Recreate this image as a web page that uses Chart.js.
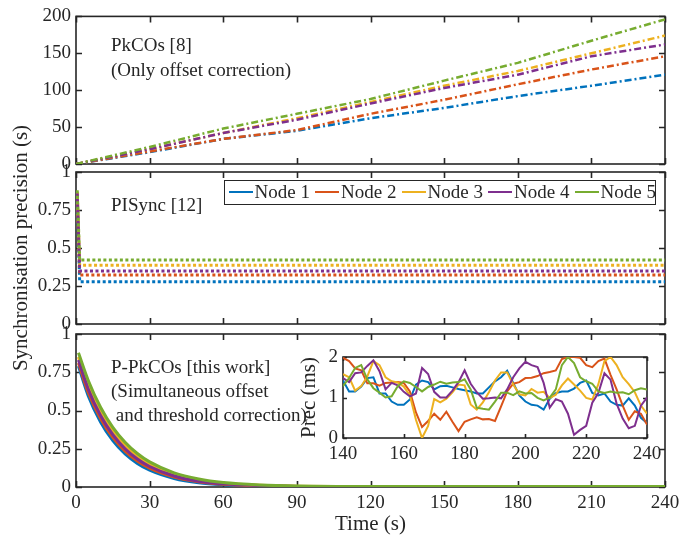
<!DOCTYPE html>
<html>
<head>
<meta charset="utf-8">
<script src="https://cdn.jsdelivr.net/npm/chart.js@4.4.1/dist/chart.umd.min.js"></script>
<style>
    html, body { margin: 0; padding: 0; background: #fff; }
    #wrap { position: relative; width: 694px; height: 538px; overflow: hidden;
            font-family: 'Liberation Serif', 'Times New Roman', serif; color: #262626; }
    #wrap canvas { position: absolute; left: 0; top: 0; }
    .note { position: absolute; font-size: 19px; line-height: 24px; white-space: pre; }
    #legend { position: absolute; left: 224px; top: 180px; width: 432px; height: 25px;
              box-sizing: border-box; border: 1.5px solid #262626; background: #fff; }
    .item { position: absolute; top: 0; height: 22px; font-size: 19px; line-height: 22px; white-space: nowrap; }
    .item i { position: absolute; left: 0; top: 10px; width: 24px; height: 2px; }
    .item span { position: absolute; left: 26px; top: 0; }
</style>
</head>
<body>
<div id="wrap">
    <canvas id="p1" width="694" height="538"></canvas>
    <canvas id="p2" width="694" height="538"></canvas>
    <canvas id="p3" width="694" height="538"></canvas>
    <canvas id="inset" width="694" height="538"></canvas>
    <div class="note" style="left:111px; top:33px;">PkCOs [8]</div>
    <div class="note" style="left:111px; top:58px;">(Only offset correction)</div>
    <div class="note" style="left:111px; top:193px;">PISync [12]</div>
    <div class="note" style="left:111px; top:355px;">P-PkCOs [this work]</div>
    <div class="note" style="left:111px; top:379px;">(Simultaneous offset</div>
    <div class="note" style="left:111px; top:403px;"> and threshold correction)</div>
    <div id="legend"></div>
</div>
<script>
// Series names and colours (MATLAB default order)
const nodeNames = ['Node 1', 'Node 2', 'Node 3', 'Node 4', 'Node 5'];
const nodeColors = ['#0072BD', '#D95319', '#EDB120', '#7E2F8E', '#77AC30'];

// Panel 1: PkCOs, precision in seconds
const pkcoTime = [0, 30, 60, 90, 120, 150, 180, 210, 240];
const pkcoNode1 = [0, 16, 34, 45, 62, 76, 92, 106, 121];
const pkcoNode2 = [0, 17, 34, 46, 68, 87, 108, 128, 146];
const pkcoNode3 = [0, 20, 42, 62, 84, 106, 126, 150, 174];
const pkcoNode4 = [0, 20, 42, 60, 82, 103, 121, 146, 162];
const pkcoNode5 = [0, 23, 48, 68, 88, 113, 137, 167, 196];
const pkcoTicks = [0, 50, 100, 150, 200];

// Panel 2: PISync
const pisyncTime = [0.5, 1.5, 240];
const pisyncNode1 = [0.85, 0.278, 0.278];
const pisyncNode2 = [0.86, 0.322, 0.322];
const pisyncNode3 = [0.87, 0.386, 0.386];
const pisyncNode4 = [0.86, 0.349, 0.349];
const pisyncNode5 = [0.88, 0.421, 0.421];

// Panel 3: P-PkCOs
const ppkTime = [1, 5, 10, 15, 20, 25, 30, 40, 50, 60, 75, 90, 120, 180, 240];
const ppkNode1 = [0.79, 0.595, 0.425, 0.303, 0.216, 0.154, 0.11, 0.056, 0.028, 0.015, 0.006, 0.003, 0.002, 0.001, 0.001];
const ppkNode2 = [0.81, 0.618, 0.448, 0.324, 0.235, 0.17, 0.123, 0.065, 0.034, 0.018, 0.008, 0.004, 0.002, 0.001, 0.001];
const ppkNode3 = [0.85, 0.665, 0.493, 0.365, 0.271, 0.201, 0.149, 0.082, 0.045, 0.025, 0.011, 0.005, 0.002, 0.002, 0.002];
const ppkNode4 = [0.83, 0.639, 0.467, 0.342, 0.25, 0.183, 0.134, 0.072, 0.038, 0.021, 0.009, 0.004, 0.002, 0.002, 0.001];
const ppkNode5 = [0.877, 0.696, 0.521, 0.39, 0.293, 0.219, 0.164, 0.092, 0.052, 0.029, 0.013, 0.006, 0.003, 0.003, 0.003];
const precTicks = [0, 0.25, 0.5, 0.75, 1];
const timeTicks = [0, 30, 60, 90, 120, 150, 180, 210, 240];

// Inset: precision in ms, 140-240 s
const insetTime = [140, 142, 144, 146, 148, 150, 152, 154, 156, 158,
    160, 162, 164, 166, 168, 170, 172, 174, 176, 178,
    180, 182, 184, 186, 188, 190, 192, 194, 196, 198,
    200, 202, 204, 206, 208, 210, 212, 214, 216, 218,
    220, 222, 224, 226, 228, 230, 232, 234, 236, 238, 240];
const insetNode1 = [1.42, 1.15, 1.15, 1.27, 1.48, 1.5, 1.1, 1.1, 0.9, 0.82,
    0.82, 0.95, 1.32, 1.42, 1.38, 1.2, 1.28, 1.29, 1.25, 1.21,
    1.18, 1.15, 1.1, 1.1, 1.25, 1.4, 1.5, 1.66, 1.36, 1.05,
    0.9, 0.82, 0.8, 0.7, 0.97, 1.11, 1.15, 1.15, 1.22, 1.36,
    1.42, 1.11, 1.05, 1.1, 0.9, 0.82, 0.8, 0.98, 0.8, 0.5, 0.37];
const insetNode2 = [1.98, 1.9, 1.72, 1.67, 1.35, 1.35, 1.29, 1.36, 1.37, 1.38,
    1.36, 1.15, 0.63, 0.27, 0.42, 0.6, 0.45, 0.65, 0.4, 0.17,
    0.4, 0.46, 0.51, 0.46, 0.47, 0.42, 0.78, 1.15, 1.34, 1.38,
    1.48, 1.49, 1.53, 1.6, 1.63, 1.67, 1.95, 2.0, 2.0, 1.98,
    1.8, 1.75, 1.9, 1.96, 1.56, 1.2, 0.8, 0.45, 0.66, 0.6, 0.33];
const insetNode3 = [1.58, 1.5, 1.17, 1.28, 1.52, 1.9, 1.8, 1.5, 1.4, 1.37,
    1.27, 1.05, 0.45, 0.0, 0.3, 0.96, 0.88, 0.97, 1.13, 1.32,
    1.3, 0.83, 0.7, 0.88, 1.13, 1.42, 1.62, 1.62, 1.32, 1.08,
    1.05, 1.21, 1.12, 1.14, 0.99, 1.07, 1.3, 1.47, 1.32, 1.17,
    0.99, 0.95, 1.33, 1.9, 2.0, 1.8, 1.5, 1.33, 1.13, 0.8, 0.6];
const insetNode4 = [1.48, 1.38, 1.6, 1.62, 1.78, 1.92, 1.65, 1.2, 1.36, 1.3,
    1.14, 1.03, 1.1, 1.73, 1.58, 1.14, 1.0, 1.0, 1.17, 1.38,
    1.67, 1.34, 1.13, 0.97, 0.98, 1.0, 0.98, 1.2, 1.5, 1.72,
    1.88, 1.8, 1.75, 1.36, 0.75, 0.96, 0.9, 0.6, 0.08, 0.2,
    0.3, 0.87, 1.11, 1.6, 1.44, 0.85, 0.48, 0.24, 0.3, 0.8, 1.0];
const insetNode5 = [1.28, 1.48, 1.73, 1.8, 1.45, 1.23, 1.12, 1.0, 1.03, 1.28,
    1.4, 1.36, 1.26, 1.15, 1.26, 1.32, 1.39, 1.34, 1.37, 1.38,
    1.45, 1.2, 0.75, 0.72, 0.7, 0.9, 1.12, 1.12, 1.06, 1.15,
    1.1, 1.11, 0.99, 0.93, 1.0, 1.2, 1.8, 2.0, 1.85, 1.5,
    1.4, 1.34, 1.15, 1.11, 1.15, 1.12, 1.13, 1.08, 1.18, 1.23, 1.2];
const insetXTicks = [140, 160, 180, 200, 220, 240];
const insetYTicks = [0, 1, 2];

const FONT = "'Liberation Serif', 'Times New Roman', serif";
const AXIS = '#262626';
Chart.defaults.font.family = FONT;
Chart.defaults.font.size = 19;
Chart.defaults.color = AXIS;

// Box around the axes with inward tick marks on all four sides
const framePlugin = {
    id: 'frame',
    beforeDatasetsDraw(chart, args, opts) {
        const ctx = chart.ctx;
        const a = chart.chartArea;
        const len = opts.len;
        ctx.save();
        if (opts.fill) {
            ctx.fillStyle = '#fff';
            ctx.fillRect(a.left, a.top, a.right - a.left, a.bottom - a.top);
        }
        ctx.strokeStyle = AXIS;
        ctx.lineWidth = opts.width;
        ctx.beginPath();
        const xs = chart.scales.x, ys = chart.scales.y;
        xs.ticks.forEach(t => {
            const px = Math.round(xs.getPixelForValue(t.value)) + 0.5;
            ctx.moveTo(px, a.bottom); ctx.lineTo(px, a.bottom - len);
            ctx.moveTo(px, a.top); ctx.lineTo(px, a.top + len);
        });
        ys.ticks.forEach(t => {
            const py = Math.round(ys.getPixelForValue(t.value)) + 0.5;
            ctx.moveTo(a.left, py); ctx.lineTo(a.left + len, py);
            ctx.moveTo(a.right, py); ctx.lineTo(a.right - len, py);
        });
        ctx.stroke();
        ctx.strokeRect(a.left, a.top, a.right - a.left, a.bottom - a.top);
        ctx.restore();
    }
};

function makeSets(xs, series, style) {
    return series.map((ys, i) => Object.assign({
        label: nodeNames[i],
        data: xs.map((x, j) => ({ x: x, y: ys[j] })),
        borderColor: nodeColors[i],
        backgroundColor: nodeColors[i],
        pointRadius: 0,
        fill: false,
        order: series.length - i
    }, style));
}

function tickList(values) {
    return function (scale) {
        scale.ticks = values.map(v => ({ value: v }));
    };
}

function makeChart(id, cfg) {
    const xTitle = cfg.xTitle ? { display: true, text: cfg.xTitle, font: { size: 21 }, padding: { top: 0, bottom: 1 } } : { display: false };
    const yTitle = cfg.yTitle ? { display: true, text: cfg.yTitle, font: { size: 21 }, padding: { top: cfg.yTitlePad, bottom: 0 } } : { display: false };
    return new Chart(document.getElementById(id), {
        type: 'line',
        data: { datasets: cfg.datasets },
        options: {
            responsive: false,
            animation: false,
            devicePixelRatio: 1,
            events: [],
            layout: { padding: cfg.padding },
            plugins: {
                legend: { display: false },
                tooltip: { enabled: false },
                frame: { len: cfg.tickLen, width: cfg.frameWidth, fill: !!cfg.fill }
            },
            scales: {
                x: {
                    type: 'linear',
                    min: cfg.xTicks[0],
                    max: cfg.xTicks[cfg.xTicks.length - 1],
                    afterBuildTicks: tickList(cfg.xTicks),
                    afterFit: s => { s.height = cfg.xHeight; },
                    grid: { display: false, drawTicks: false },
                    border: { display: false },
                    ticks: { display: cfg.xLabels, padding: 5, maxRotation: 0, autoSkip: false,
                             callback: v => String(v) },
                    title: xTitle
                },
                y: {
                    type: 'linear',
                    min: cfg.yTicks[0],
                    max: cfg.yTicks[cfg.yTicks.length - 1],
                    afterBuildTicks: tickList(cfg.yTicks),
                    afterFit: s => { s.width = cfg.yWidth; },
                    grid: { display: false, drawTicks: false },
                    border: { display: false },
                    ticks: { padding: 5, autoSkip: false, callback: v => String(v) },
                    title: yTitle
                }
            }
        },
        plugins: [framePlugin]
    });
}

// Panel 1
makeChart('p1', {
    datasets: makeSets(pkcoTime, [pkcoNode1, pkcoNode2, pkcoNode3, pkcoNode4, pkcoNode5],
        { borderWidth: 2.5, borderDash: [7, 3, 2, 3], tension: 0 }),
    padding: { left: 0, right: 29, top: 12, bottom: 374 },
    xTicks: timeTicks, yTicks: pkcoTicks, xLabels: false, xHeight: 0, yWidth: 76,
    tickLen: 6, frameWidth: 1.6
});

// Panel 2
makeChart('p2', {
    datasets: makeSets(pisyncTime, [pisyncNode1, pisyncNode2, pisyncNode3, pisyncNode4, pisyncNode5],
        { borderWidth: 3, borderDash: [3, 2.5], tension: 0 }),
    padding: { left: 0, right: 29, top: 172, bottom: 214 },
    xTicks: timeTicks, yTicks: precTicks, xLabels: false, xHeight: 0, yWidth: 76,
    yTitle: 'Synchronisation precision (s)', yTitlePad: 9,
    tickLen: 6, frameWidth: 1.6
});

// Panel 3
makeChart('p3', {
    datasets: makeSets(ppkTime, [ppkNode1, ppkNode2, ppkNode3, ppkNode4, ppkNode5],
        { borderWidth: 3, cubicInterpolationMode: 'monotone' }),
    padding: { left: 0, right: 29, top: 334, bottom: 0 },
    xTicks: timeTicks, yTicks: precTicks, xLabels: true, xHeight: 51, yWidth: 76,
    xTitle: 'Time (s)',
    tickLen: 6, frameWidth: 1.6
});

// Inset
makeChart('inset', {
    datasets: makeSets(insetTime, [insetNode1, insetNode2, insetNode3, insetNode4, insetNode5],
        { borderWidth: 2, tension: 0 }),
    padding: { left: 293, right: 47, top: 357, bottom: 70 },
    xTicks: insetXTicks, yTicks: insetYTicks, xLabels: true, xHeight: 30, yWidth: 50,
    yTitle: 'Prec (ms)', yTitlePad: 4,
    tickLen: 4, frameWidth: 1.6, fill: true
});

// Legend (boxed, solid line samples)
const legend = document.getElementById('legend');
nodeNames.forEach((name, i) => {
    const item = document.createElement('div');
    item.className = 'item';
    item.style.left = (3.5 + 86.5 * i) + 'px';
    item.innerHTML = `<i style="background:${nodeColors[i]}"></i><span>${name}</span>`;
    legend.appendChild(item);
});
</script>
</body>
</html>
